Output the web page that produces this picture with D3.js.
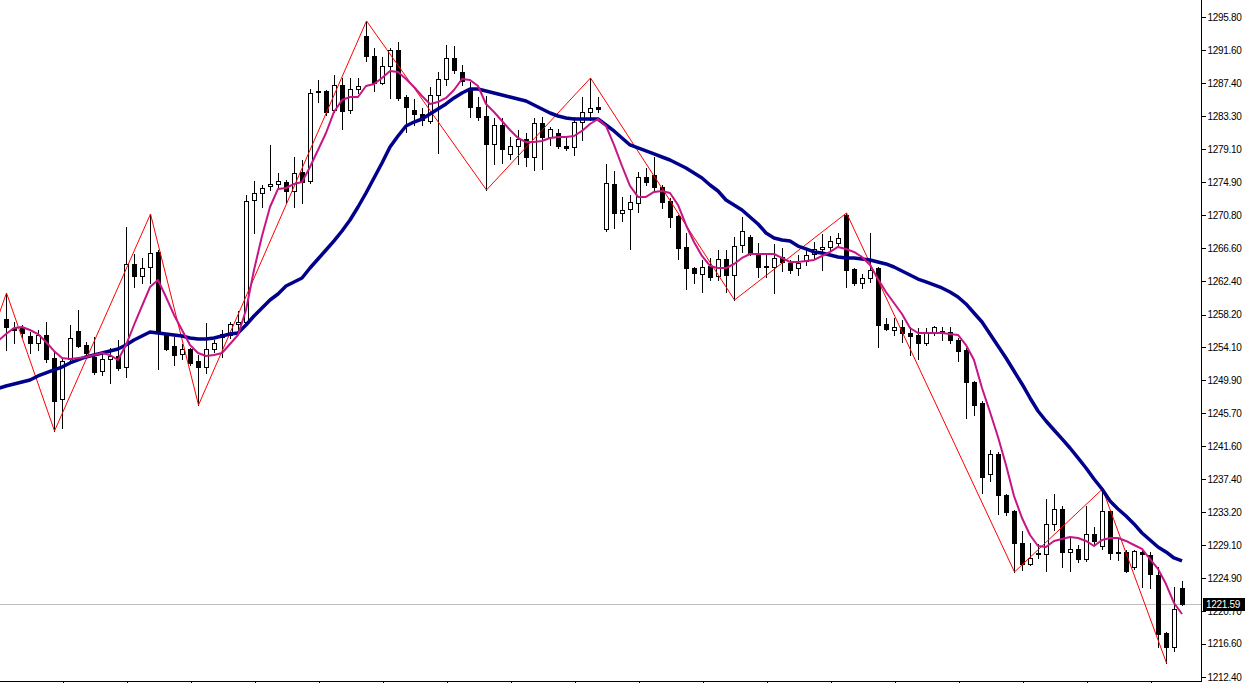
<!DOCTYPE html>
<html><head><meta charset="utf-8">
<script src="https://cdn.jsdelivr.net/npm/d3@7"></script>
<style>html,body{margin:0;padding:0;background:#fff;overflow:hidden}svg{display:block}</style>
</head><body>
<script>
// ---- DATA ----
const openP = [1257.64,1256.50,1256.50,1255.49,1254.61,1255.62,1252.71,1247.53,1252.59,1256.12,1254.35,1252.84,1251.07,1252.59,1252.96,1251.57,1264.59,1263.07,1264.21,1266.11,
1255.62,1254.23,1253.22,1253.85,1252.33,1251.57,1253.85,1255.74,1255.62,1257.01,1257.26,1272.68,1273.56,1274.45,1274.70,1274.95,1273.81,1276.22,1275.08,1286.45,
1286.45,1284.05,1287.21,1284.05,1286.70,1293.40,1290.87,1287.46,1289.61,1291.63,1285.69,1284.05,1283.54,1282.66,1285.95,1287.97,1290.62,1288.85,1286.83,1284.43,
1283.29,1279.75,1282.15,1278.49,1279.50,1280.39,1278.11,1282.41,1280.64,1281.14,1279.50,1279.37,1282.53,1283.80,1284.43,1269.01,1274.70,1271.03,1271.54,1272.30,
1275.58,1275.84,1274.32,1272.55,1270.66,1266.74,1264.08,1263.33,1264.34,1263.07,1265.22,1263.20,1266.99,1268.00,1265.85,1264.34,1264.21,1265.47,1264.72,1264.08,
1264.97,1265.85,1266.48,1266.74,1267.24,1270.78,1263.96,1262.19,1262.82,1264.08,1257.01,1256.25,1256.63,1255.87,1255.62,1254.61,1256.00,1256.12,1256.00,1254.99,
1253.72,1249.68,1247.03,1238.05,1240.58,1235.40,1233.38,1229.33,1226.68,1227.94,1227.94,1231.74,1233.63,1228.20,1228.58,1227.31,1230.47,1228.96,1233.38,1228.20,
1228.20,1226.30,1228.20,1227.82,1225.29,1217.96,1216.19,1223.65];
const highP = [1260.93,1257.26,1256.88,1256.00,1256.25,1257.26,1253.47,1252.71,1256.88,1258.78,1254.73,1255.37,1253.47,1253.98,1254.99,1269.27,1265.85,1265.35,1270.91,1266.36,
1255.74,1255.37,1254.48,1253.98,1253.09,1257.13,1254.99,1256.25,1257.26,1258.65,1273.31,1275.08,1274.57,1279.63,1276.09,1275.20,1278.11,1277.73,1286.70,1287.84,
1286.58,1288.47,1288.09,1288.09,1288.09,1295.30,1291.88,1290.75,1291.88,1292.64,1286.00,1285.44,1284.30,1286.96,1288.85,1292.26,1292.14,1289.74,1287.59,1285.69,
1285.82,1283.04,1283.04,1280.64,1281.52,1281.14,1283.04,1283.17,1281.90,1281.65,1280.64,1283.17,1285.69,1288.09,1285.69,1277.23,1276.34,1273.06,1273.31,1276.22,
1276.72,1278.11,1274.57,1272.93,1270.78,1268.51,1264.21,1265.10,1265.35,1266.36,1266.36,1268.00,1270.53,1268.25,1267.24,1265.98,1267.12,1266.61,1265.10,1265.73,
1266.61,1267.37,1268.38,1268.13,1268.51,1271.03,1264.08,1263.33,1268.51,1264.20,1257.77,1257.77,1257.51,1256.63,1256.50,1256.50,1256.76,1256.63,1256.63,1255.24,
1253.98,1249.81,1247.28,1241.09,1240.83,1235.53,1233.50,1230.85,1229.33,1229.21,1234.89,1235.53,1234.01,1229.97,1229.08,1234.01,1231.36,1236.16,1233.50,1229.84,
1228.45,1228.45,1228.45,1228.20,1226.30,1218.09,1223.77,1224.53];
const lowP = [1253.72,1254.61,1255.37,1253.34,1253.72,1252.21,1243.49,1243.87,1252.21,1254.10,1252.84,1250.69,1250.56,1249.55,1251.20,1250.31,1261.68,1262.19,1262.19,1251.32,
1253.72,1251.83,1252.59,1251.83,1246.77,1250.82,1253.47,1252.84,1255.24,1255.87,1256.88,1268.51,1271.79,1273.94,1274.19,1272.30,1271.79,1272.30,1274.83,1285.06,
1283.42,1283.80,1281.65,1283.67,1286.20,1290.24,1286.45,1287.34,1285.57,1285.31,1281.27,1282.15,1282.15,1282.41,1278.62,1287.21,1288.73,1287.21,1283.17,1282.79,
1273.94,1277.23,1277.35,1277.86,1277.23,1276.97,1276.47,1276.59,1279.63,1279.30,1279.00,1278.36,1280.26,1282.79,1283.80,1268.76,1269.14,1270.02,1266.49,1271.16,
1274.57,1273.94,1271.67,1269.27,1265.22,1261.43,1262.19,1261.05,1262.57,1262.57,1261.05,1260.04,1266.11,1265.73,1262.95,1262.95,1260.93,1263.71,1263.45,1263.20,
1264.46,1265.35,1263.83,1266.36,1266.99,1261.68,1261.94,1261.56,1262.32,1254.10,1256.25,1255.62,1254.73,1253.09,1252.59,1254.35,1255.62,1254.99,1254.61,1252.33,
1245.13,1245.51,1235.65,1237.17,1233.00,1232.87,1225.67,1225.92,1226.55,1227.44,1225.80,1230.98,1226.30,1225.80,1226.93,1227.06,1229.08,1228.58,1227.31,1227.19,
1225.67,1226.05,1223.77,1223.65,1216.19,1214.17,1215.69,1221.50];
const closeP = [1256.63,1256.25,1255.87,1254.61,1255.62,1252.59,1247.28,1252.33,1255.24,1254.23,1253.34,1250.94,1252.59,1252.96,1251.45,1264.59,1263.07,1264.08,1265.98,1256.00,
1253.85,1253.09,1253.85,1252.08,1251.57,1253.85,1254.61,1255.37,1257.01,1257.26,1272.55,1273.56,1274.19,1274.70,1275.08,1273.81,1276.09,1274.95,1286.20,1286.40,
1283.80,1287.21,1283.92,1286.70,1287.08,1290.87,1287.46,1289.61,1291.63,1285.57,1284.43,1283.54,1282.79,1285.95,1287.97,1290.62,1289.10,1287.71,1284.43,1283.17,
1279.75,1282.15,1279.12,1279.50,1280.39,1278.11,1282.41,1280.64,1281.65,1279.50,1279.25,1282.53,1283.80,1284.30,1284.18,1274.83,1271.03,1271.41,1272.42,1275.58,
1274.95,1274.32,1272.42,1270.53,1266.61,1264.08,1263.45,1264.21,1262.95,1265.22,1263.20,1266.86,1268.76,1265.98,1264.21,1264.21,1265.35,1264.84,1263.83,1264.72,
1265.73,1266.48,1266.74,1267.50,1267.88,1263.83,1262.19,1262.82,1263.83,1256.88,1256.38,1256.63,1255.87,1255.49,1254.61,1256.00,1256.63,1255.87,1254.99,1253.60,
1249.68,1246.77,1237.67,1240.58,1235.40,1233.25,1229.33,1226.68,1227.44,1228.07,1231.74,1233.63,1228.20,1228.58,1227.31,1230.47,1229.59,1233.38,1228.07,1228.07,
1225.75,1228.32,1227.94,1225.42,1217.84,1216.19,1220.99,1221.59];
// moving averages start one bar before the first visible candle
const maFirstIndex = -1;
// slow moving average (dark blue)
const maSlow = [1248.85,1249.17,1249.43,1249.68,1249.93,1250.44,1250.82,1251.20,1251.57,1252.08,1252.46,1252.84,1253.09,1253.34,1253.60,1253.85,1254.35,1254.99,1255.49,1256.00,1255.87,
1255.74,1255.62,1255.49,1255.24,1255.11,1255.11,1255.24,1255.49,1255.74,1255.87,1256.88,1258.02,1259.03,1260.04,1260.80,1261.81,1262.32,1262.82,1264.08,1265.22,
1266.36,1267.50,1268.76,1270.15,1271.79,1273.56,1275.46,1277.35,1279.37,1280.76,1282.03,1282.53,1282.91,1283.54,1284.18,1284.81,1285.57,1286.20,1286.70,1286.70,
1286.45,1286.20,1285.95,1285.69,1285.44,1285.19,1284.68,1284.18,1283.67,1283.29,1283.04,1282.91,1282.91,1282.91,1282.91,1282.15,1281.40,1280.51,1279.63,1279.25,
1278.87,1278.49,1278.11,1277.73,1277.23,1276.72,1276.09,1275.46,1274.57,1273.81,1272.68,1272.05,1271.41,1270.53,1269.64,1268.51,1267.88,1267.62,1267.50,1266.86,
1266.49,1266.11,1265.98,1265.73,1265.47,1265.35,1265.35,1265.22,1265.10,1264.84,1264.59,1264.21,1263.71,1263.20,1262.69,1262.32,1261.94,1261.56,1261.05,1260.42,
1259.54,1258.40,1257.26,1255.74,1254.23,1252.71,1251.07,1249.43,1247.66,1246.01,1244.75,1243.61,1242.48,1241.34,1240.08,1238.81,1237.42,1236.16,1234.64,1233.63,
1232.75,1231.74,1230.60,1229.71,1228.83,1228.20,1227.44,1227.06];
// fast moving average (violet)
const maFast = [1254.86,1255.74,1256.50,1256.63,1256.25,1255.74,1254.73,1253.60,1252.71,1252.59,1252.71,1252.84,1253.09,1253.34,1253.09,1252.46,1254.35,1256.88,1259.28,1261.68,1262.57,
1260.42,1258.15,1256.25,1254.35,1253.34,1252.96,1253.09,1253.34,1254.48,1255.62,1258.78,1263.83,1268.13,1271.79,1274.07,1274.19,1274.70,1274.95,1276.85,1278.99,
1281.14,1283.80,1285.31,1285.69,1285.69,1287.08,1287.33,1288.09,1288.98,1288.85,1287.97,1286.96,1285.82,1284.81,1285.06,1285.57,1286.58,1287.97,1287.84,1287.08,
1284.81,1283.80,1282.66,1281.52,1280.51,1280.00,1280.00,1280.13,1280.51,1280.64,1280.64,1280.76,1281.40,1282.28,1282.91,1282.03,1279.63,1276.97,1274.45,1273.06,
1273.06,1273.69,1273.81,1273.56,1272.05,1269.52,1267.37,1265.60,1264.34,1264.08,1264.08,1264.59,1265.35,1265.85,1265.85,1265.85,1265.85,1265.35,1264.84,1264.84,
1264.97,1265.10,1265.60,1266.11,1266.74,1266.48,1266.11,1265.47,1264.46,1262.69,1261.05,1259.66,1258.27,1256.50,1255.87,1255.87,1255.87,1255.87,1255.74,1255.62,
1254.35,1252.46,1248.92,1245.89,1242.73,1239.19,1235.27,1232.49,1230.34,1228.95,1228.83,1229.59,1229.84,1230.09,1229.97,1229.59,1228.95,1229.71,1229.97,1229.97,
1229.59,1229.08,1228.58,1227.31,1226.05,1224.15,1221.75,1220.36];
// zigzag turning points: bar index and price
const zigIndex = [-3,0,6,18,24,45,60,73,91,105,126,137,145];
const zigPrice = [1252.33,1260.93,1243.49,1270.91,1246.77,1295.30,1273.94,1288.09,1260.04,1271.03,1225.67,1236.16,1214.17];
const priceLabels = ["1295.80","1291.60","1287.40","1283.30","1279.10","1274.90","1270.80","1266.60","1262.40","1258.20","1254.10",
"1249.90","1245.70","1241.60","1237.40","1233.20","1229.10","1224.90","1220.70","1216.60","1212.40"];
const timeTickIndex = [7,15,23,31,39,47,55,63,71,79,87,95,103,111,119,127,135,143];
const lastPrice = 1221.59;

// ---- CHART ----
const W = 1245, H = 683;
const axisX = 1201, bottomY = 681;
const svg = d3.select("body").append("svg").attr("width", W).attr("height", H);
const x = d3.scaleLinear().domain([0, 147]).range([6, 1182]);
const y = d3.scaleLinear().domain([1212.40, 1295.80]).range([677, 17]);
const px = v => Math.round(x(v));
const py = v => Math.round(y(v));

svg.append("clipPath").attr("id", "plot").append("rect")
  .attr("x", 0).attr("y", 0).attr("width", axisX).attr("height", bottomY);
const plot = svg.append("g").attr("clip-path", "url(#plot)");

// current price line
plot.append("line").attr("x1", 0).attr("x2", axisX)
  .attr("y1", py(lastPrice) + 0.5).attr("y2", py(lastPrice) + 0.5)
  .attr("stroke", "#c0c0c0").attr("stroke-width", 1);

const bars = d3.range(openP.length);
// wicks
plot.append("g").selectAll("line").data(bars).join("line")
  .attr("x1", i => px(i) + 0.5).attr("x2", i => px(i) + 0.5)
  .attr("y1", i => py(highP[i])).attr("y2", i => py(lowP[i]) + 1)
  .attr("stroke", "#000").attr("stroke-width", 1).attr("shape-rendering", "crispEdges");
// bodies
plot.append("g").selectAll("rect").data(bars).join("rect")
  .attr("x", i => px(i) - 1.5)
  .attr("width", 4)
  .attr("y", i => py(Math.max(openP[i], closeP[i])) + 0.5)
  .attr("height", i => Math.max(1, py(Math.min(openP[i], closeP[i])) - py(Math.max(openP[i], closeP[i]))))
  .attr("fill", i => closeP[i] >= openP[i] ? "#fff" : "#000")
  .attr("stroke", "#000").attr("stroke-width", 1);

// zigzag
plot.append("path")
  .datum(d3.range(zigIndex.length))
  .attr("d", d3.line().x(j => x(zigIndex[j]) + 0.5).y(j => y(zigPrice[j])))
  .attr("fill", "none").attr("stroke", "#ff0000").attr("stroke-width", 1);

const maIdx = d3.range(maSlow.length);
// slow MA
plot.append("path").datum(maIdx)
  .attr("d", d3.line().x(i => x(i + maFirstIndex)).y(i => y(maSlow[i])))
  .attr("fill", "none").attr("stroke", "#00008b").attr("stroke-width", 3.5)
  .attr("stroke-linejoin", "round");
// fast MA
plot.append("path").datum(maIdx)
  .attr("d", d3.line().x(i => x(i + maFirstIndex)).y(i => y(maFast[i])))
  .attr("fill", "none").attr("stroke", "#c71585").attr("stroke-width", 2)
  .attr("stroke-linejoin", "round");

// right price axis
const yAxis = d3.axisRight(y)
  .tickValues(priceLabels.map(Number))
  .tickFormat((d, i) => priceLabels[i])
  .tickSize(4).tickPadding(2);
const ga = svg.append("g").attr("transform", `translate(${axisX + 0.5},0)`).call(yAxis);
ga.select(".domain").remove();
ga.selectAll("text").attr("font-family", "Liberation Sans, Arial, sans-serif")
  .attr("font-size", 10).attr("fill", "#000").attr("letter-spacing", "-0.3");
ga.selectAll("line").attr("stroke", "#000").attr("shape-rendering", "crispEdges");
svg.append("line").attr("x1", axisX + 0.5).attr("x2", axisX + 0.5).attr("y1", 0).attr("y2", bottomY)
  .attr("stroke", "#000");

// bottom time axis (ticks only)
const xAxis = d3.axisBottom(x).tickValues(timeTickIndex).tickFormat("").tickSize(4);
const gx = svg.append("g").attr("transform", `translate(0.5,${bottomY + 0.5})`).call(xAxis);
gx.select(".domain").remove();
gx.selectAll("line").attr("stroke", "#000").attr("shape-rendering", "crispEdges");
svg.append("line").attr("x1", 0).attr("x2", axisX + 1).attr("y1", bottomY + 0.5).attr("y2", bottomY + 0.5)
  .attr("stroke", "#000");

// current price marker (overlaps the 1220.70 label, as in the original terminal view)
const lp = svg.append("g").attr("transform", `translate(${axisX + 1},${py(lastPrice)})`);
lp.append("rect").attr("x", 1).attr("y", -6).attr("width", 42).attr("height", 13).attr("fill", "#000");
lp.append("text").attr("x", 4).attr("y", 4).attr("fill", "#fff")
  .attr("font-family", "Liberation Sans, Arial, sans-serif").attr("font-size", 10)
  .attr("letter-spacing", "-0.3").text(lastPrice.toFixed(2));
</script>
</body></html>
